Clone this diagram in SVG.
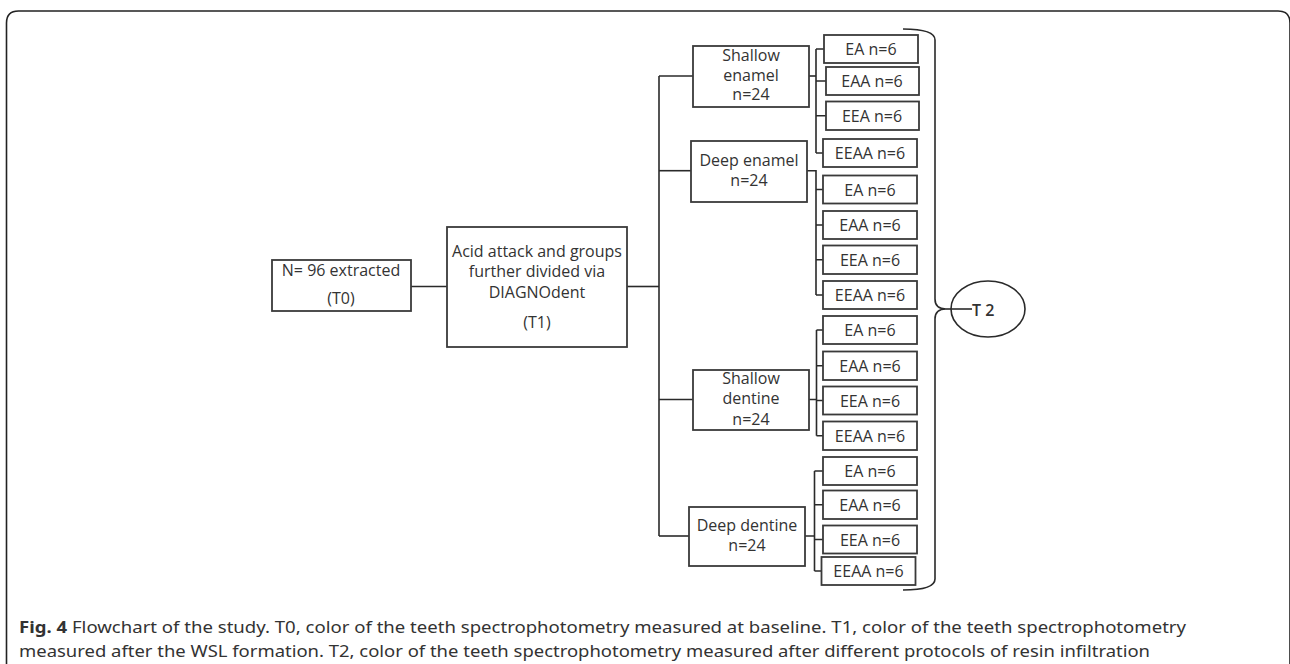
<svg xmlns="http://www.w3.org/2000/svg" width="1290" height="664" viewBox="0 0 1290 664">
<style>
.box{fill:#fff;stroke:#3a3a3a;stroke-width:1.8}
.t{font-family:"Open Sans","Noto Sans",sans-serif;font-size:16px;fill:#333;text-anchor:middle}
.leaf text{font-family:"Open Sans","Noto Sans",sans-serif;font-size:16px;fill:#333;text-anchor:middle}
.con{fill:none;stroke:#2a2a2a;stroke-width:1.6}
.cap{font-family:"Noto Sans","Open Sans",sans-serif;font-size:16px;fill:#333}
</style>
<rect width="1290" height="664" fill="#fff"/>
<path d="M6.5,664 V23 Q6.5,11 18.5,11 H1278 Q1290,11 1290,23 V664" fill="none" stroke="#222" stroke-width="1.6"/>

<g id="connectors" class="con">
<path d="M411,286.5 H447"/>
<path d="M627,286.5 H659"/>
<path d="M659,76 V536"/>
<path d="M659,76 H693"/>
<path d="M659,170.7 H691"/>
<path d="M659,399.5 H693"/>
<path d="M659,536 H689"/>
<path d="M809,76 H816"/>
<path d="M816,49 V153 M816,49 H824 M816,81 H826 M816,115.7 H826 M816,153 H823"/>
<path d="M807,170.7 H816 V295 M816,189.5 H823 M816,225 H823 M816,259.7 H823 M816,295 H823"/>
<path d="M809,399.5 H816.5 M816.5,330 V435.7 M816.5,330 H823 M816.5,365.7 H823 M816.5,400.5 H823 M816.5,435.7 H823"/>
<path d="M805,536 H814.5 M814.5,471 V571 M814.5,471 H823 M814.5,504.7 H823 M814.5,539.5 H823 M814.5,571 H821.5"/>
<path d="M903,29 Q935,29 935,40 V299 Q935,309 946,309 Q935,309 935,319 V579 Q935,590 903,590"/>
<path d="M946,309 H972"/>
</g>

<g id="n0">
<rect class="box" x="272" y="260" width="139" height="51"/>
<text class="t" x="341" y="276">N= 96 extracted</text>
<text class="t" x="341" y="304">(T0)</text>
</g>

<g id="n1">
<rect class="box" x="447" y="227" width="180" height="120"/>
<text class="t" x="537" y="257">Acid attack and groups</text>
<text class="t" x="537" y="277">further divided via</text>
<text class="t" x="537" y="298">DIAGNOdent</text>
<text class="t" x="537" y="328">(T1)</text>
</g>

<g id="g-shallow-enamel">
<rect class="box" x="693" y="46" width="116" height="61"/>
<text class="t" x="751" y="60.5">Shallow</text>
<text class="t" x="751" y="80.5">enamel</text>
<text class="t" x="751" y="100">n=24</text>
</g>
<g id="g-deep-enamel">
<rect class="box" x="691" y="141" width="116" height="61"/>
<text class="t" x="749" y="165.5">Deep enamel</text>
<text class="t" x="749" y="185.5">n=24</text>
</g>
<g id="g-shallow-dentine">
<rect class="box" x="693" y="370" width="116" height="60"/>
<text class="t" x="751" y="384">Shallow</text>
<text class="t" x="751" y="404">dentine</text>
<text class="t" x="751" y="425">n=24</text>
</g>
<g id="g-deep-dentine">
<rect class="box" x="689" y="507" width="116" height="59"/>
<text class="t" x="747" y="531">Deep dentine</text>
<text class="t" x="747" y="551">n=24</text>
</g>

<g id="l1a" class="leaf"><rect class="box" x="824" y="35" width="94" height="28"/><text x="871" y="55">EA n=6</text></g>
<g id="l1b" class="leaf"><rect class="box" x="826" y="67" width="93" height="28"/><text x="872" y="87">EAA n=6</text></g>
<g id="l1c" class="leaf"><rect class="box" x="826" y="101.5" width="93" height="28.5"/><text x="872" y="121.5">EEA n=6</text></g>
<g id="l1d" class="leaf"><rect class="box" x="823" y="139" width="94" height="28"/><text x="870" y="159">EEAA n=6</text></g>

<g id="l2a" class="leaf"><rect class="box" x="823" y="175.5" width="94" height="28"/><text x="870" y="195.5">EA n=6</text></g>
<g id="l2b" class="leaf"><rect class="box" x="823" y="211" width="94" height="28"/><text x="870" y="231">EAA n=6</text></g>
<g id="l2c" class="leaf"><rect class="box" x="823" y="245.5" width="94" height="28.5"/><text x="870" y="265.5">EEA n=6</text></g>
<g id="l2d" class="leaf"><rect class="box" x="823" y="281" width="94" height="28"/><text x="870" y="301">EEAA n=6</text></g>

<g id="l3a" class="leaf"><rect class="box" x="823" y="316" width="94" height="28"/><text x="870" y="336">EA n=6</text></g>
<g id="l3b" class="leaf"><rect class="box" x="823" y="351.5" width="94" height="28.5"/><text x="870" y="371.5">EAA n=6</text></g>
<g id="l3c" class="leaf"><rect class="box" x="823" y="386.5" width="94" height="28"/><text x="870" y="406.5">EEA n=6</text></g>
<g id="l3d" class="leaf"><rect class="box" x="823" y="421.5" width="94" height="28.5"/><text x="870" y="441.5">EEAA n=6</text></g>

<g id="l4a" class="leaf"><rect class="box" x="823" y="457" width="94" height="28"/><text x="870" y="477">EA n=6</text></g>
<g id="l4b" class="leaf"><rect class="box" x="823" y="490.5" width="94" height="28.5"/><text x="870" y="510.5">EAA n=6</text></g>
<g id="l4c" class="leaf"><rect class="box" x="823" y="525.5" width="94" height="28"/><text x="870" y="545.5">EEA n=6</text></g>
<g id="l4d" class="leaf"><rect class="box" x="821.5" y="557" width="94" height="28"/><text x="868.5" y="577">EEAA n=6</text></g>

<g id="t2">
<ellipse cx="988" cy="309" rx="37" ry="28" fill="none" stroke="#2a2a2a" stroke-width="1.6"/>
<text x="972" y="315.5" font-family="Open Sans, Noto Sans, sans-serif" font-size="16" font-weight="600" fill="#333">T 2</text>
</g>

<g id="caption">
<text class="cap" x="19" y="633" textLength="1167" lengthAdjust="spacingAndGlyphs"><tspan font-weight="bold">Fig. 4</tspan> Flowchart of the study. T0, color of the teeth spectrophotometry measured at baseline. T1, color of the teeth spectrophotometry</text>
<text class="cap" x="19" y="657" textLength="1131" lengthAdjust="spacingAndGlyphs">measured after the WSL formation. T2, color of the teeth spectrophotometry measured after different protocols of resin infiltration</text>
</g>
</svg>
